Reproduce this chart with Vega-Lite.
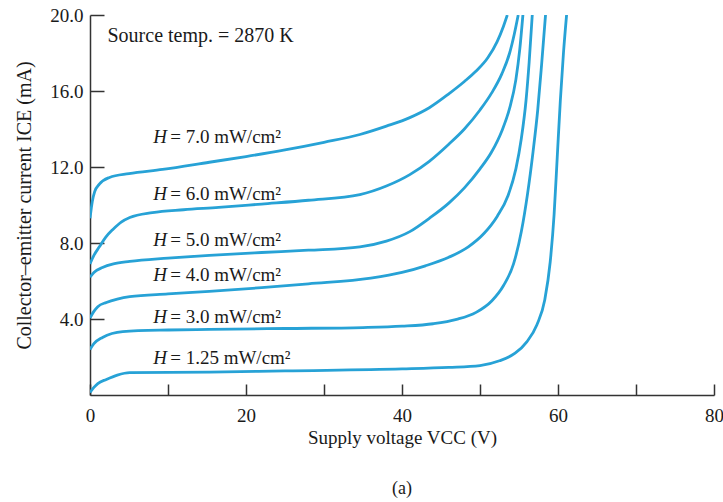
{
  "$schema": "https://vega.github.io/schema/vega-lite/v6.json",
  "width": 624,
  "height": 380,
  "autosize": "none",
  "padding": {"left": 90, "top": 15, "right": 9, "bottom": 107},
  "background": "white",
  "config": {"view": {"stroke": null}, "font": "Liberation Serif"},
  "title": {"text": "(a)", "orient": "bottom", "offset": 33, "fontSize": 18, "fontWeight": "normal", "font": "Liberation Serif", "color": "#1a1a1a"},
  "datasets": {
    "curves": [
      {"H": "7.0", "v": 0, "i": 9.3}, {"H": "7.0", "v": 0.3, "i": 10.2}, {"H": "7.0", "v": 0.6, "i": 10.7}, {"H": "7.0", "v": 1.2, "i": 11.1}, {"H": "7.0", "v": 2.5, "i": 11.45}, {"H": "7.0", "v": 5, "i": 11.65}, {"H": "7.0", "v": 9.3, "i": 11.87}, {"H": "7.0", "v": 15.3, "i": 12.25}, {"H": "7.0", "v": 20, "i": 12.55}, {"H": "7.0", "v": 25, "i": 12.9}, {"H": "7.0", "v": 30, "i": 13.3}, {"H": "7.0", "v": 34.6, "i": 13.71}, {"H": "7.0", "v": 38, "i": 14.15}, {"H": "7.0", "v": 41, "i": 14.6}, {"H": "7.0", "v": 43.5, "i": 15.12}, {"H": "7.0", "v": 46, "i": 15.85}, {"H": "7.0", "v": 48, "i": 16.5}, {"H": "7.0", "v": 49.5, "i": 17.05}, {"H": "7.0", "v": 51, "i": 17.75}, {"H": "7.0", "v": 52.2, "i": 18.6}, {"H": "7.0", "v": 53, "i": 19.4}, {"H": "7.0", "v": 53.5, "i": 20},
      {"H": "6.0", "v": 0, "i": 6.9}, {"H": "6.0", "v": 0.5, "i": 7.35}, {"H": "6.0", "v": 1.2, "i": 7.8}, {"H": "6.0", "v": 2, "i": 8.3}, {"H": "6.0", "v": 2.9, "i": 8.7}, {"H": "6.0", "v": 4, "i": 9.1}, {"H": "6.0", "v": 5.1, "i": 9.34}, {"H": "6.0", "v": 8, "i": 9.6}, {"H": "6.0", "v": 12, "i": 9.75}, {"H": "6.0", "v": 16.5, "i": 9.87}, {"H": "6.0", "v": 22, "i": 10.05}, {"H": "6.0", "v": 28, "i": 10.25}, {"H": "6.0", "v": 34.6, "i": 10.55}, {"H": "6.0", "v": 38, "i": 11.0}, {"H": "6.0", "v": 41, "i": 11.6}, {"H": "6.0", "v": 43.5, "i": 12.3}, {"H": "6.0", "v": 46, "i": 13.2}, {"H": "6.0", "v": 48, "i": 14.0}, {"H": "6.0", "v": 50, "i": 15.0}, {"H": "6.0", "v": 51.5, "i": 15.9}, {"H": "6.0", "v": 52.8, "i": 16.9}, {"H": "6.0", "v": 53.8, "i": 18.0}, {"H": "6.0", "v": 54.4, "i": 19.0}, {"H": "6.0", "v": 54.9, "i": 20},
      {"H": "5.0", "v": 0, "i": 6.2}, {"H": "5.0", "v": 0.5, "i": 6.45}, {"H": "5.0", "v": 1.6, "i": 6.71}, {"H": "5.0", "v": 3, "i": 6.9}, {"H": "5.0", "v": 5.1, "i": 7.03}, {"H": "5.0", "v": 10, "i": 7.2}, {"H": "5.0", "v": 15.3, "i": 7.35}, {"H": "5.0", "v": 22, "i": 7.5}, {"H": "5.0", "v": 28, "i": 7.62}, {"H": "5.0", "v": 34.6, "i": 7.8}, {"H": "5.0", "v": 38, "i": 8.1}, {"H": "5.0", "v": 41, "i": 8.6}, {"H": "5.0", "v": 43.5, "i": 9.3}, {"H": "5.0", "v": 46, "i": 10.1}, {"H": "5.0", "v": 48, "i": 10.9}, {"H": "5.0", "v": 50, "i": 11.9}, {"H": "5.0", "v": 51.5, "i": 12.8}, {"H": "5.0", "v": 52.8, "i": 13.9}, {"H": "5.0", "v": 53.8, "i": 15.1}, {"H": "5.0", "v": 54.6, "i": 16.6}, {"H": "5.0", "v": 55.1, "i": 18.2}, {"H": "5.0", "v": 55.5, "i": 20},
      {"H": "4.0", "v": 0, "i": 4.05}, {"H": "4.0", "v": 0.5, "i": 4.4}, {"H": "4.0", "v": 1, "i": 4.65}, {"H": "4.0", "v": 2.1, "i": 4.87}, {"H": "4.0", "v": 3.5, "i": 5.05}, {"H": "4.0", "v": 5.1, "i": 5.18}, {"H": "4.0", "v": 10, "i": 5.32}, {"H": "4.0", "v": 15.3, "i": 5.45}, {"H": "4.0", "v": 22, "i": 5.65}, {"H": "4.0", "v": 28, "i": 5.85}, {"H": "4.0", "v": 36, "i": 6.15}, {"H": "4.0", "v": 40, "i": 6.45}, {"H": "4.0", "v": 43, "i": 6.8}, {"H": "4.0", "v": 46, "i": 7.25}, {"H": "4.0", "v": 48.5, "i": 7.8}, {"H": "4.0", "v": 50.5, "i": 8.5}, {"H": "4.0", "v": 52.2, "i": 9.4}, {"H": "4.0", "v": 53.6, "i": 10.5}, {"H": "4.0", "v": 54.6, "i": 11.9}, {"H": "4.0", "v": 55.3, "i": 13.5}, {"H": "4.0", "v": 55.9, "i": 15.5}, {"H": "4.0", "v": 56.3, "i": 17.5}, {"H": "4.0", "v": 56.7, "i": 20},
      {"H": "3.0", "v": 0, "i": 2.4}, {"H": "3.0", "v": 0.5, "i": 2.7}, {"H": "3.0", "v": 1.6, "i": 3.03}, {"H": "3.0", "v": 4.2, "i": 3.34}, {"H": "3.0", "v": 10, "i": 3.42}, {"H": "3.0", "v": 15.3, "i": 3.45}, {"H": "3.0", "v": 25, "i": 3.5}, {"H": "3.0", "v": 35, "i": 3.55}, {"H": "3.0", "v": 40, "i": 3.62}, {"H": "3.0", "v": 44, "i": 3.75}, {"H": "3.0", "v": 47, "i": 3.98}, {"H": "3.0", "v": 49.5, "i": 4.35}, {"H": "3.0", "v": 51.5, "i": 4.95}, {"H": "3.0", "v": 53, "i": 5.75}, {"H": "3.0", "v": 54.3, "i": 6.9}, {"H": "3.0", "v": 55.3, "i": 8.6}, {"H": "3.0", "v": 56.1, "i": 10.6}, {"H": "3.0", "v": 56.8, "i": 12.8}, {"H": "3.0", "v": 57.4, "i": 15.0}, {"H": "3.0", "v": 57.9, "i": 17.4}, {"H": "3.0", "v": 58.4, "i": 20},
      {"H": "1.25", "v": 0, "i": 0.13}, {"H": "1.25", "v": 0.5, "i": 0.4}, {"H": "1.25", "v": 1, "i": 0.6}, {"H": "1.25", "v": 2.1, "i": 0.82}, {"H": "1.25", "v": 3.5, "i": 1.05}, {"H": "1.25", "v": 5.1, "i": 1.18}, {"H": "1.25", "v": 15.3, "i": 1.2}, {"H": "1.25", "v": 25, "i": 1.27}, {"H": "1.25", "v": 40, "i": 1.37}, {"H": "1.25", "v": 46, "i": 1.45}, {"H": "1.25", "v": 50, "i": 1.55}, {"H": "1.25", "v": 52.5, "i": 1.8}, {"H": "1.25", "v": 54.5, "i": 2.2}, {"H": "1.25", "v": 56, "i": 2.8}, {"H": "1.25", "v": 57.3, "i": 3.7}, {"H": "1.25", "v": 58.3, "i": 5.0}, {"H": "1.25", "v": 59, "i": 7.0}, {"H": "1.25", "v": 59.5, "i": 9.5}, {"H": "1.25", "v": 59.9, "i": 12.5}, {"H": "1.25", "v": 60.3, "i": 15.5}, {"H": "1.25", "v": 60.7, "i": 18}, {"H": "1.25", "v": 61.1, "i": 20}
    ],
    "labels": [
      {"lx": 8.1, "ly": 13.6, "rest": "= 7.0 mW/cm²"},
      {"lx": 8.1, "ly": 10.6, "rest": "= 6.0 mW/cm²"},
      {"lx": 8.1, "ly": 8.18, "rest": "= 5.0 mW/cm²"},
      {"lx": 8.1, "ly": 6.34, "rest": "= 4.0 mW/cm²"},
      {"lx": 8.1, "ly": 4.08, "rest": "= 3.0 mW/cm²"},
      {"lx": 8.1, "ly": 1.95, "rest": "= 1.25 mW/cm²"}
    ],
    "note": [{"nx": 2.24, "ny": 18.87, "t": "Source temp. = 2870 K"}]
  },
  "layer": [
    {
      "data": {"name": "curves"},
      "mark": {"type": "line", "interpolate": "monotone", "color": "#27a2d6", "strokeWidth": 2.8, "clip": true},
      "encoding": {
        "x": {"field": "v", "type": "quantitative", "scale": {"domain": [0, 80], "nice": false},
          "axis": {"title": "Supply voltage VCC (V)", "values": [0, 10, 20, 30, 40, 50, 60, 70, 80], "labelExpr": "datum.value % 20 === 0 ? datum.label : ''", "grid": false, "tickSize": -11, "labelPadding": 22, "labelFont": "Liberation Serif", "labelFontSize": 19, "labelColor": "#1a1a1a", "titleFont": "Liberation Serif", "titleFontSize": 19, "titleFontWeight": "normal", "titleColor": "#1a1a1a", "titlePadding": 3, "domainColor": "#333", "tickColor": "#333", "domainWidth": 1.5, "tickWidth": 1.5, "labelFlush": false}},
        "y": {"field": "i", "type": "quantitative", "scale": {"domain": [0, 20], "nice": false},
          "axis": {"title": "Collector–emitter current  ICE (mA)", "values": [4, 8, 12, 16, 20], "format": ".1f", "grid": false, "tickSize": -14, "labelPadding": 21, "labelFont": "Liberation Serif", "labelFontSize": 19, "labelColor": "#1a1a1a", "titleFont": "Liberation Serif", "titleFontSize": 20, "titleFontWeight": "normal", "titleColor": "#1a1a1a", "titlePadding": 15, "domainColor": "#333", "tickColor": "#333", "domainWidth": 1.5, "tickWidth": 1.5}},
        "detail": {"field": "H", "type": "nominal"}
      }
    },
    {
      "data": {"name": "labels"},
      "mark": {"type": "text", "align": "left", "baseline": "middle", "font": "Liberation Serif", "fontSize": 19, "fontStyle": "italic", "color": "#1a1a1a"},
      "encoding": {
        "x": {"field": "lx", "type": "quantitative"},
        "y": {"field": "ly", "type": "quantitative"},
        "text": {"value": "H"}
      }
    },
    {
      "data": {"name": "labels"},
      "mark": {"type": "text", "align": "left", "baseline": "middle", "font": "Liberation Serif", "fontSize": 19, "dx": 17, "color": "#1a1a1a"},
      "encoding": {
        "x": {"field": "lx", "type": "quantitative"},
        "y": {"field": "ly", "type": "quantitative"},
        "text": {"field": "rest"}
      }
    },
    {
      "data": {"name": "note"},
      "mark": {"type": "text", "align": "left", "baseline": "middle", "font": "Liberation Serif", "fontSize": 20, "color": "#1a1a1a"},
      "encoding": {
        "x": {"field": "nx", "type": "quantitative"},
        "y": {"field": "ny", "type": "quantitative"},
        "text": {"field": "t"}
      }
    }
  ]
}
